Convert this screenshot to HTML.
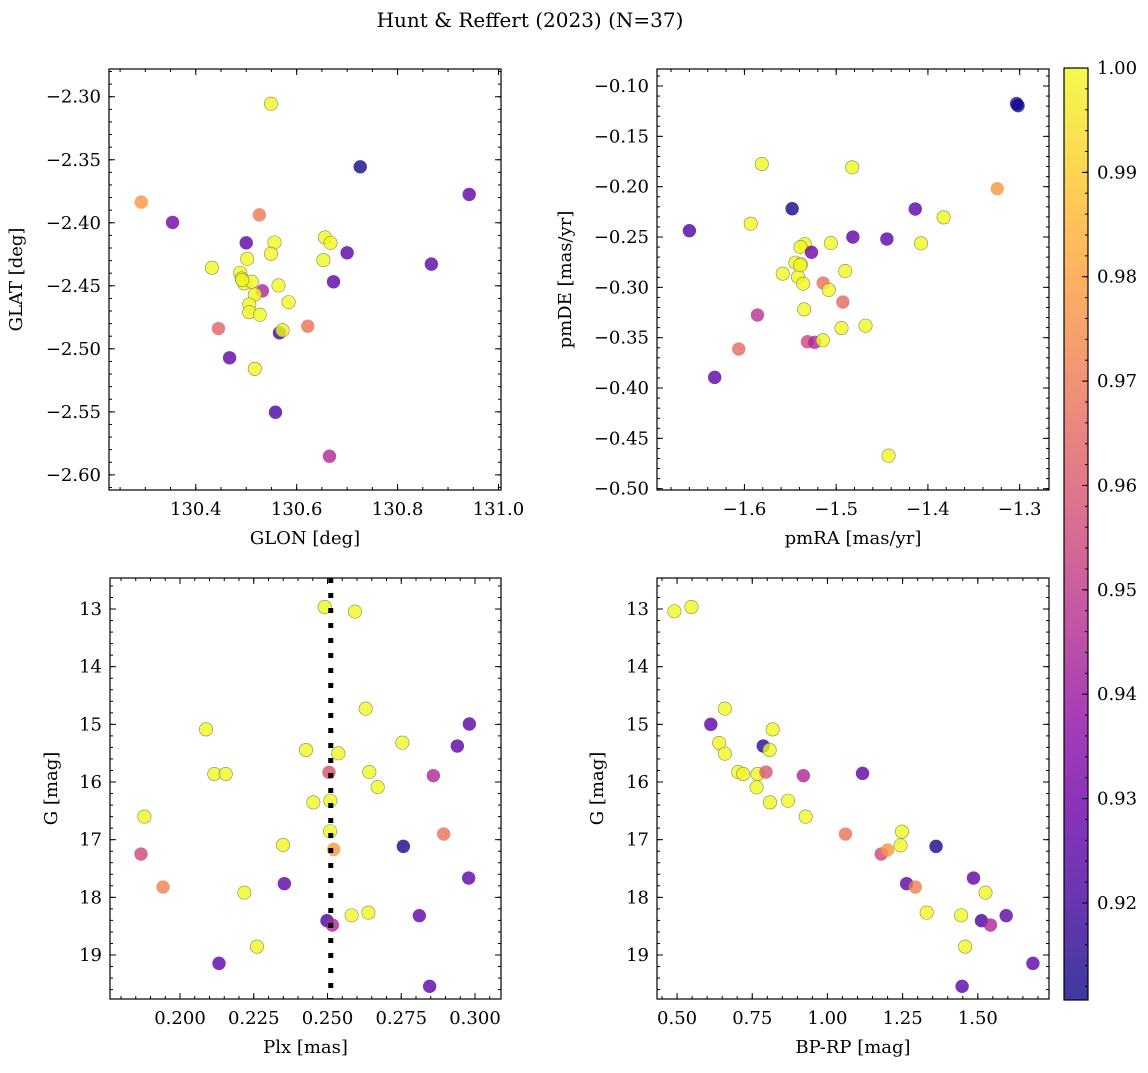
<!DOCTYPE html>
<html><head><meta charset="utf-8">
<style>
body{margin:0;background:#fff;}
svg text{font-family:"DejaVu Serif","Liberation Serif",serif;fill:#000;}
</style></head>
<body>
<svg id="fig" width="1148" height="1068" viewBox="0 0 1148 1068" xmlns="http://www.w3.org/2000/svg">
<text x="530" y="27" font-size="20" text-anchor="middle">Hunt &amp; Reffert (2023) (N=37)</text>
</svg>
<script>
// ---- Panel 1: GLON vs GLAT ----
const p1X=[130.549,130.726,130.942,130.292,130.354,130.526,130.500,130.556,130.549,130.502,130.656,130.667,130.700,130.653,130.867,130.432,130.488,130.491,130.496,130.511,130.673,130.564,130.532,130.517,130.584,130.506,130.506,130.527,130.445,130.622,130.566,130.572,130.467,130.517,130.558,130.665,130.492];
const p1Y=[-2.3056,-2.3556,-2.3775,-2.3836,-2.3997,-2.3937,-2.4159,-2.4156,-2.4246,-2.4286,-2.4116,-2.4159,-2.4238,-2.4296,-2.4328,-2.4357,-2.4397,-2.4442,-2.4481,-2.4468,-2.4468,-2.4497,-2.4540,-2.4569,-2.4630,-2.4648,-2.4709,-2.4730,-2.4839,-2.4820,-2.4873,-2.4852,-2.5071,-2.5159,-2.5503,-2.5852,-2.4455];
const p1C=[1,0.912,0.925,0.978,0.93,0.97,0.925,1,1,1,1,1,0.925,1,0.925,1,1,1,1,1,0.925,1,0.945,1,1,1,1,1,0.963,0.968,0.918,1,0.925,1,0.922,0.945,1];
// ---- Panel 2: pmRA vs pmDE ----
const p2X=[-1.3033,-1.3018,-1.5811,-1.4825,-1.3244,-1.548,-1.4138,-1.3829,-1.5931,-1.66,-1.4818,-1.4447,-1.5342,-1.5058,-1.4076,-1.5389,-1.5269,-1.5444,-1.5385,-1.5582,-1.4902,-1.5415,-1.536,-1.5142,-1.508,-1.4927,-1.5349,-1.5858,-1.4942,-1.468,-1.5313,-1.5233,-1.5145,-1.6062,-1.6324,-1.4429,-1.5392];
const p2Y=[-0.1175,-0.1195,-0.1775,-0.1808,-0.2020,-0.2219,-0.2222,-0.2305,-0.2368,-0.2437,-0.25,-0.252,-0.2570,-0.2560,-0.2563,-0.2599,-0.2652,-0.2755,-0.2772,-0.2864,-0.2838,-0.2897,-0.2964,-0.2957,-0.3026,-0.3146,-0.3219,-0.3275,-0.3404,-0.3381,-0.354,-0.3546,-0.3526,-0.3613,-0.3894,-0.4672,-0.2780];
const p2C=[0.915,0.91,1,1,0.978,0.912,0.925,1,1,0.922,0.925,0.925,1,1,1,1,0.93,1,1,1,1,1,1,0.968,1,0.965,1,0.948,1,1,0.955,0.945,1,0.965,0.925,1,1];
// ---- Panel 3: Plx vs G ----
const p3X=[0.24904,0.25932,0.26294,0.29808,0.20881,0.29401,0.27537,0.24271,0.25367,0.21164,0.21548,0.25051,0.26418,0.28588,0.26701,0.2452,0.25096,0.18791,0.25085,0.28938,0.23492,0.2521,0.2757,0.18678,0.19424,0.29785,0.23537,0.22181,0.26384,0.25819,0.28113,0.24983,0.25164,0.2261,0.21322,0.28463];
const p3Y=[12.965,13.046,14.728,14.994,15.087,15.376,15.318,15.445,15.503,15.861,15.861,15.832,15.827,15.890,16.087,16.353,16.324,16.601,16.855,16.902,17.092,17.168,17.116,17.249,17.821,17.665,17.763,17.919,18.266,18.312,18.318,18.405,18.480,18.855,19.145,19.543];
const p3C=[1,1,1,0.925,1,0.925,1,1,1,1,1,0.958,1,0.945,1,1,1,1,1,0.968,1,0.978,0.912,0.955,0.972,0.925,0.925,1,1,1,0.925,0.92,0.945,1,0.925,0.925];
const p3Line=[0.2511];
// ---- Panel 4: BP-RP vs G ----
const p4X=[0.4911,0.5478,0.6589,0.6122,0.64,0.6589,0.8178,0.7867,0.8078,0.7033,0.72,0.7678,0.7956,0.92,1.1167,0.7644,0.8089,0.8689,0.9278,1.06,1.2478,1.2433,1.3611,1.1789,1.2,1.4856,1.2633,1.2922,1.5256,1.33,1.4444,1.5944,1.5122,1.5422,1.4578,1.6833,1.4478];
const p4Y=[13.040,12.965,14.728,15.0,15.324,15.509,15.087,15.376,15.445,15.827,15.861,15.861,15.827,15.890,15.850,16.092,16.353,16.324,16.601,16.902,16.861,17.098,17.116,17.249,17.179,17.665,17.763,17.821,17.919,18.266,18.312,18.318,18.405,18.480,18.855,19.145,19.543];
const p4C=[1,1,1,0.925,1,1,1,0.915,1,1,1,1,0.96,0.945,0.925,1,1,1,1,0.968,1,1,0.912,0.955,0.978,0.925,0.925,0.972,1,1,1,0.925,0.92,0.945,1,0.925,0.925];
// ---- tick labels ----
const p1XTicks=[130.4,130.6,130.8,131.0];
const p1YTicks=[-2.30,-2.35,-2.40,-2.45,-2.50,-2.55,-2.60];
const p2XTicks=[-1.6,-1.5,-1.4,-1.3];
const p2YTicks=[-0.10,-0.15,-0.20,-0.25,-0.30,-0.35,-0.40,-0.45,-0.50];
const p3XTicks=[0.200,0.225,0.250,0.275,0.300];
const gTicks=[13,14,15,16,17,18,19];
const p4XTicks=[0.50,0.75,1.00,1.25,1.50];
const cbTicks=[1.00,0.99,0.98,0.97,0.96,0.95,0.94,0.93,0.92];
const cMin=0.9107, cMax=1.0;

const NS="http://www.w3.org/2000/svg";
const svg=document.getElementById('fig');
function mk(tag,attrs,parent){const e=document.createElementNS(NS,tag);for(const k in attrs)e.setAttribute(k,attrs[k]);(parent||svg).appendChild(e);return e;}
const plasma=[[13,8,135],[65,4,157],[106,0,168],[143,13,164],[177,42,144],[204,71,120],[225,100,98],[242,132,75],[252,166,54],[252,206,37],[240,249,33]];
function cmap(v){let t=(v-cMin)/(cMax-cMin);t=Math.max(0,Math.min(1,t))*10;const i=Math.min(9,Math.floor(t)),f=t-i;const a=plasma[i],b=plasma[i+1];return 'rgb('+a.map((x,k)=>Math.round(x+(b[k]-x)*f)).join(',')+')';}
function fmt(v,d){return (v<0?'\u2212':'')+Math.abs(v).toFixed(d);}
const TF=18;

function panel(cfg){
  const g=mk('g',{});
  
  
  const {L,T,R,B}=cfg;
  const sx=v=>L+(v-cfg.x0)/(cfg.x1-cfg.x0)*(R-L);
  const sy=v=>T+(v-cfg.y0)/(cfg.y1-cfg.y0)*(B-T);
  const tk=mk('g',{stroke:'#000','stroke-width':1},g);
  
  
  const xlo=Math.min(cfg.x0,cfg.x1),xhi=Math.max(cfg.x0,cfg.x1),ylo=Math.min(cfg.y0,cfg.y1),yhi=Math.max(cfg.y0,cfg.y1);
  for(let v=Math.ceil(xlo/cfg.xm-1e-6)*cfg.xm;v<=xhi+1e-9;v+=cfg.xm){const x=sx(v);if(x<L+0.5||x>R-0.5)continue;mk('line',{x1:x,x2:x,y1:B,y2:B-3},tk);mk('line',{x1:x,x2:x,y1:T,y2:T+3},tk);}
  for(let v=Math.ceil(ylo/cfg.ym-1e-6)*cfg.ym;v<=yhi+1e-9;v+=cfg.ym){const y=sy(v);if(y<T+0.5||y>B-0.5)continue;mk('line',{x1:L,x2:L+3,y1:y,y2:y},tk);mk('line',{x1:R,x2:R-3,y1:y,y2:y},tk);}
  cfg.xt.forEach(v=>{const x=sx(v);mk('line',{x1:x,x2:x,y1:B,y2:B-6},tk);mk('line',{x1:x,x2:x,y1:T,y2:T+6},tk);
    const t=mk('text',{x:x,y:B+25,'font-size':TF,'text-anchor':'middle'},g);t.textContent=fmt(v,cfg.xd);
    });
  cfg.yt.forEach(v=>{const y=sy(v);mk('line',{x1:L,x2:L+6,y1:y,y2:y},tk);mk('line',{x1:R,x2:R-6,y1:y,y2:y},tk);
    const t=mk('text',{x:L-8,y:y+6,'font-size':TF,'text-anchor':'end'},g);t.textContent=fmt(v,cfg.yd);
    });
  const pts=mk('g',{},g);
  
  
  cfg.xs.forEach((xv,i)=>{
    const c=mk('circle',{cx:sx(xv),cy:sy(cfg.ys[i]),r:6.7,fill:cmap(cfg.cs[i]),'fill-opacity':0.8,stroke:cfg.cs[i]>0.99?'#8a8a50':'none','stroke-width':0.6},pts);
    
    
  });
  if(cfg.vline){cfg.vline.forEach(v=>{const l=mk('line',{x1:sx(v),x2:sx(v),y1:T,y2:B,stroke:'#000','stroke-width':5,'stroke-dasharray':'5 10'},g);
    });}
  const fr=mk('rect',{x:L,y:T,width:R-L,height:B-T,fill:'none',stroke:'#000','stroke-width':1.2},g);
  
  const xl=mk('text',{x:(L+R)/2,y:B+54,'font-size':18,'text-anchor':'middle'},g);xl.textContent=cfg.xlab;
  
  const yl=mk('text',{x:0,y:0,'font-size':18,'text-anchor':'middle',transform:'translate('+cfg.ylx+','+(T+B)/2+') rotate(-90)'},g);yl.textContent=cfg.ylab;
  
}
panel({name:'glon-glat-panel',L:109,T:69,R:501,B:490,x0:130.228,x1:131.005,y0:-2.278,y1:-2.612,xm:0.05,ym:0.01,xt:p1XTicks,yt:p1YTicks,xd:1,yd:2,xs:p1X,ys:p1Y,cs:p1C,xlab:'GLON [deg]',ylab:'GLAT [deg]',ylx:22});
panel({name:'pm-panel',L:657,T:69,R:1049,B:490,x0:-1.6953,x1:-1.268,y0:-0.0831,y1:-0.5013,xm:0.02,ym:0.01,xt:p2XTicks,yt:p2YTicks,xd:1,yd:2,xs:p2X,ys:p2Y,cs:p2C,xlab:'pmRA [mas/yr]',ylab:'pmDE [mas/yr]',ylx:571});
panel({name:'plx-g-panel',L:110,T:578,R:501,B:999,x0:0.17627,x1:0.30881,y0:12.462,y1:19.763,xm:0.005,ym:0.2,xt:p3XTicks,yt:gTicks,xd:3,yd:0,xs:p3X,ys:p3Y,cs:p3C,vline:p3Line,xlab:'Plx [mas]',ylab:'G [mag]',ylx:57});
panel({name:'cmd-panel',L:657,T:578,R:1049,B:999,x0:0.4333,x1:1.7367,y0:12.462,y1:19.763,xm:0.05,ym:0.2,xt:p4XTicks,yt:gTicks,xd:2,yd:0,xs:p4X,ys:p4Y,cs:p4C,xlab:'BP-RP [mag]',ylab:'G [mag]',ylx:603});

const cb=mk('g',{});


const defs=mk('defs',{},cb);
const lg=mk('linearGradient',{id:'pl',x1:0,y1:1,x2:0,y2:0},defs);
plasma.forEach((c,i)=>mk('stop',{offset:(i/10),'stop-color':'rgb('+c.join(',')+')'},lg));
const cbL=1064,cbR=1088,cbT=68,cbB=1000;
mk('rect',{x:cbL,y:cbT,width:cbR-cbL,height:cbB-cbT,fill:'url(#pl)','fill-opacity':0.8},cb);
mk('rect',{x:cbL,y:cbT,width:cbR-cbL,height:cbB-cbT,fill:'none',stroke:'#000','stroke-width':1.2},cb);
const cy=v=>cbT+(cMax-v)/(cMax-cMin)*(cbB-cbT);
for(let v=0.912;v<1.0;v+=0.002){const y=cy(v);mk('line',{x1:cbR,x2:cbR-3,y1:y,y2:y,stroke:'#000'},cb);}
cbTicks.forEach(v=>{const y=cy(v);mk('line',{x1:cbR,x2:cbR-6,y1:y,y2:y,stroke:'#000'},cb);
  const t=mk('text',{x:cbR+9,y:y+6,'font-size':TF},cb);t.textContent=v.toFixed(2);
  });
</script>
</body></html>
